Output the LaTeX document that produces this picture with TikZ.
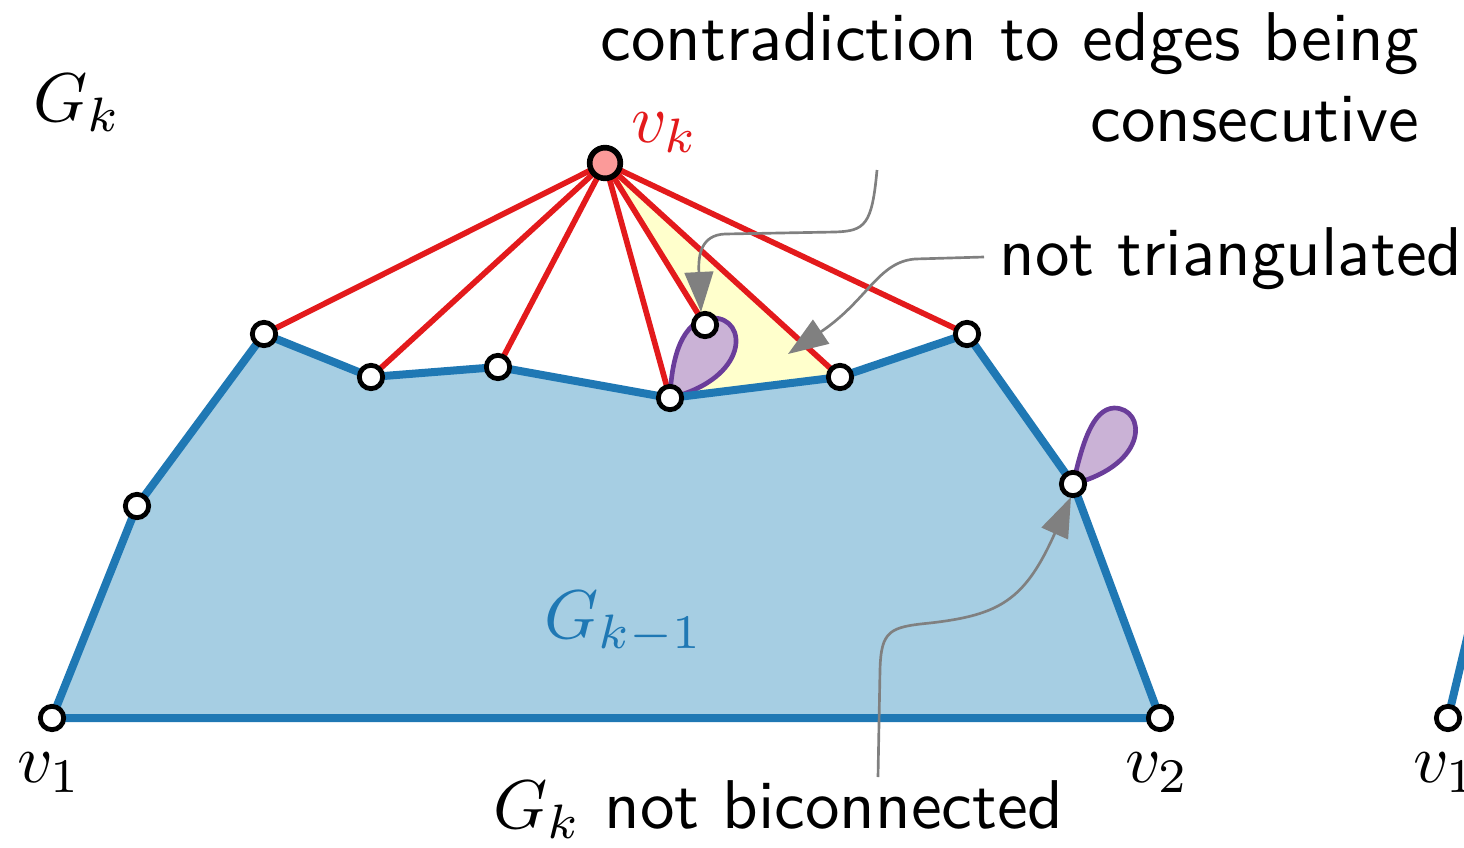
\RequirePackage{fix-cm}
\documentclass[tikz,border=0pt]{standalone}
\usetikzlibrary{arrows.meta}
\definecolor{cblue}{HTML}{1F78B4}
\definecolor{lblue}{HTML}{A6CEE3}
\definecolor{cred}{HTML}{E31A1C}
\definecolor{cpink}{HTML}{FB9A99}
\definecolor{cpurple}{HTML}{6A3D9A}
\definecolor{lpurple}{HTML}{CAB2D6}
\definecolor{lyellow}{HTML}{FFFFCC}
\definecolor{cgray}{HTML}{808080}
\begin{document}
\begin{tikzpicture}[x=0.15pt,y=-0.15pt,
  vert/.style={circle,draw=black,fill=white,line width=0.72pt,inner sep=0pt,minimum size=3.5pt},
  topvert/.style={circle,draw=black,fill=cpink,line width=0.85pt,inner sep=0pt,minimum size=4.6pt},
  rededge/.style={draw=cred,line width=0.85pt},
  blueedge/.style={draw=cblue,line width=1.2pt,line join=round},
  loopstyle/.style={draw=cpurple,fill=lpurple,line width=0.7pt},
  garrow/.style={draw=cgray,line width=0.4pt,-{Triangle[length=6pt,width=4.3pt]},fill=none},
  lbl/.style={inner sep=0pt,font=\fontsize{10.35pt}{12.15pt}\selectfont\sffamily}]
\clip (0,0) rectangle (1464,847);
% coordinates
\coordinate (v1) at (52,718);
\coordinate (a) at (137,506);
\coordinate (b) at (264,334);
\coordinate (c) at (371,377);
\coordinate (d) at (498,367);
\coordinate (e) at (670,398);
\coordinate (f) at (840,377);
\coordinate (g) at (967,334);
\coordinate (h) at (1073,484);
\coordinate (v2) at (1160,718);
\coordinate (vk) at (605,163);
\coordinate (w) at (705,325);
\coordinate (v1r) at (1448,718);
\coordinate (v1rup) at (1480,584);
% blue region
\fill[lblue] (v1) -- (a) -- (b) -- (c) -- (d) -- (e) -- (f) -- (g) -- (h) -- (v2) -- cycle;
% yellow region
\fill[lyellow] (vk) -- (w) -- (e) -- (f) -- cycle;
% red edges
\foreach \t in {b,c,d,e,w,f,g} \draw[rededge] (vk) -- (\t);
% purple loops
\draw[loopstyle] (e) .. controls (672,345) and (688,318) .. (713,318)
  .. controls (748,318) and (750,378) .. (e) -- cycle;
\draw[loopstyle] (h) .. controls (1082,445) and (1092,409) .. (1114,408)
  .. controls (1146,408) and (1150,464) .. (h) -- cycle;
% blue outline
\draw[blueedge] (v1) -- (a) -- (b) -- (c) -- (d) -- (e) -- (f) -- (g) -- (h) -- (v2) -- cycle;
\draw[blueedge] (v1r) -- (v1rup);
% arrows
\coordinate (s1) at (877,170);
\coordinate (t1) at (701,312);
\draw[garrow] (s1) .. controls (872,225) and (865,231) .. (835,232) -- (725,234)
  .. controls (701,235) and (698,255) .. (t1);
\coordinate (s2) at (984,257);
\coordinate (t2) at (788,354);
\draw[garrow] (s2) -- (915,259) .. controls (878,262) and (868,300) .. (t2);
\coordinate (s3) at (878,777);
\coordinate (t3) at (1071,497);
\draw[garrow] (s3) -- (880,670) .. controls (881,630) and (890,627) .. (930,623)
  .. controls (1000,615) and (1025,600) .. (t3);
% vertices
\foreach \p in {v1,a,b,c,d,e,f,g,h,v2,w,v1r} \node[vert] (n\p) at (\p) {};
\node[topvert] (nvk) at (vk) {};
% labels
\node[lbl,anchor=base west] (lGk) at (32,121) {$G_k$};
\node[lbl,anchor=base west,text=cred] (lvk) at (630,142) {$v_k$};
\node[lbl,anchor=base west,text=cblue] (lGk1) at (543,638) {$G_{k-1}$};
\node[lbl,anchor=base west] (lv1) at (16,782) {$v_1$};
\node[lbl,anchor=base west] (lv2) at (1124,782) {$v_2$};
\node[lbl,anchor=base west] (lv1r) at (1412,782) {$v_1$};
\node[lbl,anchor=north east,align=right] (ltop) at (1420,11) {contradiction to edges being\\consecutive};
\node[lbl,anchor=base west] (ltri) at (998,275) {not triangulated};
\node[lbl,anchor=base west] (lbic) at (492,828) {$G_k$ not biconnected};
\end{tikzpicture}
\end{document}
